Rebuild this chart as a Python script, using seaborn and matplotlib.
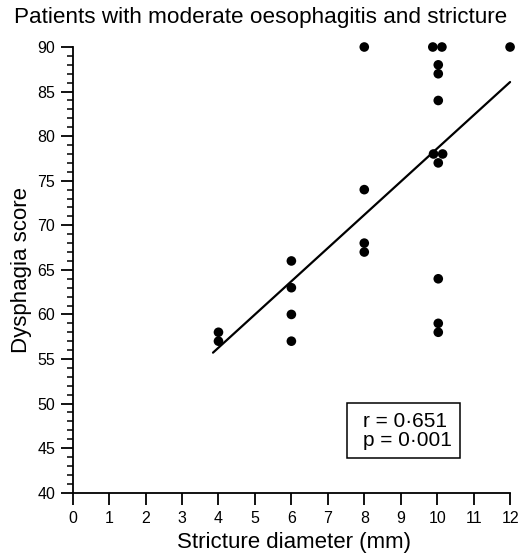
import numpy as np
import pandas as pd
import matplotlib
matplotlib.use("Agg")
import matplotlib.pyplot as plt
import seaborn as sns
from matplotlib.ticker import MultipleLocator
from matplotlib.patches import Rectangle

# stricture diameter (mm), true value and drawn (slightly jittered) position
diameter = [4, 4, 6, 6, 6, 6, 8, 8, 8, 8,
            10, 10, 10, 10, 10, 10, 10, 10, 10, 10, 10, 12]
diameter_drawn = [4, 4, 6, 6, 6, 6, 8, 8, 8, 8,
                  9.88, 10.13, 10.03, 10.03, 10.03, 9.9, 10.15, 10.03, 10.03, 10.03, 10.03, 12]
dysphagia = [58, 57, 66, 63, 60, 57, 90, 74, 68, 67,
             90, 90, 88, 87, 84, 78, 78, 77, 64, 59, 58, 90]

x_ticks = list(range(0, 13))
y_ticks = list(range(40, 91, 5))
line_span = [3.85, 12.0]

title = "Patients with moderate oesophagitis and stricture"
stats_text = "r = 0\u00b7651\np = 0\u00b7001"

df = pd.DataFrame({"x": diameter_drawn, "y": dysphagia})

sns.set_style("white")
plt.rcParams['font.family'] = ['Liberation Sans', 'DejaVu Sans']
plt.rcParams['text.color'] = 'black'
plt.rcParams['axes.labelcolor'] = 'black'
plt.rcParams['xtick.color'] = 'black'
plt.rcParams['ytick.color'] = 'black'

fig = plt.figure(figsize=(5.18, 5.53), dpi=100)
ax = fig.add_axes([0.1403, 0.109, 0.8444, 0.806])

sns.scatterplot(data=df, x="x", y="y", ax=ax, color="black", s=48,
                edgecolor="none", clip_on=False, zorder=3)

# least squares line
slope, intercept = np.polyfit(diameter, dysphagia, 1)
lx = np.array(line_span)
ax.plot(lx, intercept + slope * lx, color="black", lw=1.6, clip_on=False)

ax.set_xlim(0, 12)
ax.set_ylim(40, 90)
ax.set_xticks(x_ticks)
ax.set_yticks(y_ticks)
ax.yaxis.set_minor_locator(MultipleLocator(1))

for side in ["top", "right"]:
    ax.spines[side].set_visible(False)
for side in ["left", "bottom"]:
    ax.spines[side].set_linewidth(1.3)
    ax.spines[side].set_color("black")

ax.tick_params(axis="both", which="major", direction="out", length=8.5, width=1.3,
               labelsize=11.5, color="black", labelcolor="black", left=True, bottom=True)
ax.tick_params(axis="x", which="major", pad=4.5)
ax.tick_params(axis="y", which="major", pad=4)
ax.tick_params(axis="y", which="minor", direction="out", length=4.5, width=1.1,
               color="black", left=True)

ax.set_xlabel("Stricture diameter (mm)", fontsize=16, color="black")
ax.xaxis.set_label_coords(0.506, -0.088)
ax.set_ylabel("Dysphagia score", fontsize=16, color="black")
ax.yaxis.set_label_coords(-0.092, 0.5)

# stats box
ax.add_patch(Rectangle((0.627, 0.078), 0.259, 0.123, transform=ax.transAxes,
                       facecolor="white", edgecolor="black", linewidth=1.1, zorder=4))
ax.text(0.664, 0.139, stats_text, transform=ax.transAxes, fontsize=15,
        ha="left", va="center", linespacing=1.0, zorder=5, color="black")

fig.text(261 / 518, 1 - 18 / 553, title, ha="center", va="center", fontsize=16.2,
         color="black")

fig.savefig("out.png", dpi=100)
